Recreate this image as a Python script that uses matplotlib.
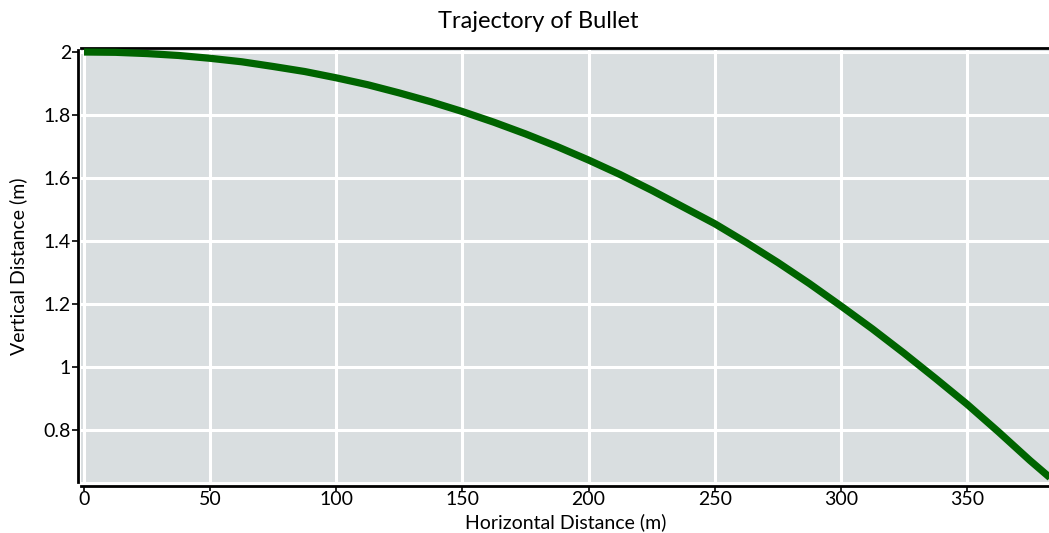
import matplotlib
matplotlib.use("Agg")
import matplotlib.pyplot as plt

plt.rcParams['font.family'] = ['Lato', 'DejaVu Sans']

# Data
horizontal_m = [0, 12.5, 25, 37.5, 50, 62.5, 75, 87.5, 100, 112.5, 125, 137.5, 150, 162.5, 175, 187.5,
                200, 212.5, 225, 237.5, 250, 262.5, 275, 287.5, 300, 312.5, 325, 337.5, 350, 362.5, 375, 383]
vertical_m = [2.0, 1.999, 1.995, 1.989, 1.980, 1.969, 1.954, 1.938, 1.918, 1.896, 1.870, 1.842, 1.811, 1.777, 1.740, 1.700,
              1.657, 1.611, 1.561, 1.508, 1.455, 1.395, 1.332, 1.265, 1.194, 1.121, 1.044, 0.964, 0.882, 0.794, 0.703, 0.648]
x_ticks = [0, 50, 100, 150, 200, 250, 300, 350]
y_ticks = [0.8, 1.0, 1.2, 1.4, 1.6, 1.8, 2.0]
y_tick_labels = ["0.8", "1", "1.2", "1.4", "1.6", "1.8", "2"]

W, H = 1049, 533
fig = plt.figure(figsize=(W / 100, H / 100), dpi=100)
ax = fig.add_axes([81 / W, (H - 482) / H, 1 - 81 / W, (482 - 50) / H])

ax.set_facecolor('#d9dee0')
ax.grid(True, color='white', linewidth=2.2)
ax.set_axisbelow(True)

ax.plot(horizontal_m, vertical_m, color='#006400', linewidth=5.2, solid_capstyle='butt',
        solid_joinstyle='round', clip_on=False, zorder=3)

px_per_unit_x = (967 - 84) / 350
ax.set_xlim((81 - 84) / px_per_unit_x, (W - 84) / px_per_unit_x)
py = 315
ax.set_ylim(2 - (482 - 52) / py, 2 + 2 / py)

ax.set_xticks(x_ticks)
ax.set_yticks(y_ticks)
ax.set_yticklabels(y_tick_labels)

for s in ['left', 'bottom', 'top']:
    ax.spines[s].set_linewidth(2.0)
    ax.spines[s].set_color('black')
ax.spines['right'].set_visible(False)
ax.spines['left'].set_position(('outward', 2.2))
ax.spines['bottom'].set_position(('outward', 3.2))
ax.spines['top'].set_position(('outward', 1.8))

ax.tick_params(axis='y', direction='out', length=4.5, width=1.2, labelsize=14, pad=0.5, colors='black')
ax.tick_params(axis='x', direction='out', length=3.5, width=1.2, labelsize=14, pad=0.0, colors='black')

ax.set_xlabel('Horizontal Distance (m)', fontsize=14)
ax.set_ylabel('Vertical Distance (m)', fontsize=14)
ax.xaxis.set_label_coords((566 - 81) / (W - 81), -(522 - 482) / (482 - 50), transform=ax.transAxes)
ax.yaxis.set_label_coords(-(81 - 18) / (W - 81), 0.5, transform=ax.transAxes)
ax.xaxis.label.set_va('center')
ax.yaxis.label.set_va('center')

fig.text(538 / W, 1 - 21 / H, 'Trajectory of Bullet', ha='center', va='center', fontsize=17)

fig.savefig('out.png', dpi=100)
